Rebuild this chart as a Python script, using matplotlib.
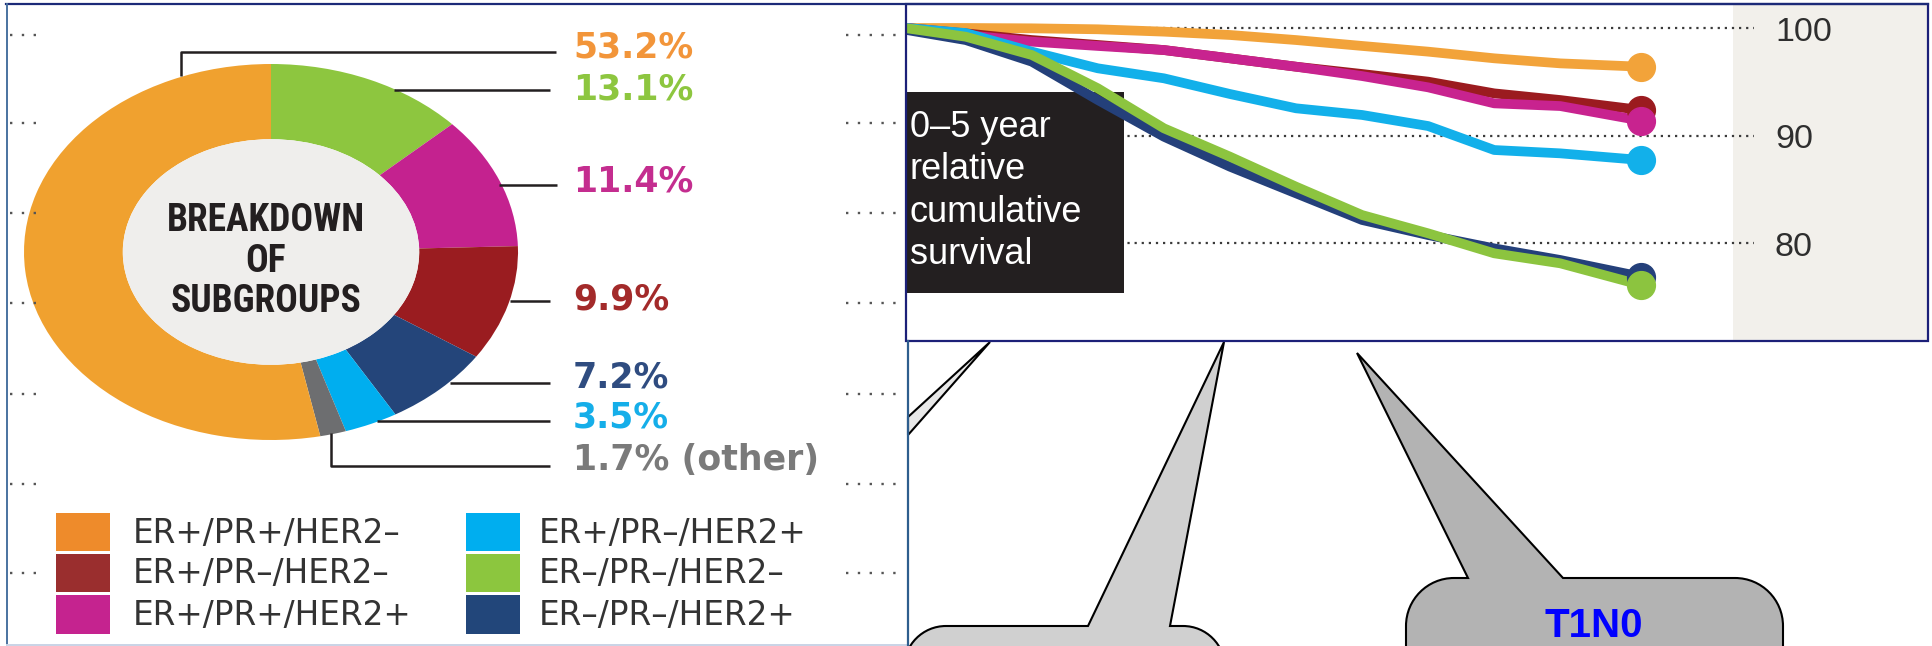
import matplotlib
matplotlib.use("Agg")
import matplotlib.pyplot as plt
from matplotlib.patches import Rectangle, Polygon, PathPatch, Circle
from matplotlib.path import Path
from matplotlib import font_manager as fm

W, H = 1933, 646

# ---------------- data ----------------
share_names = ["ER+/PR+/HER2–", "ER–/PR–/HER2–", "ER+/PR+/HER2+", "ER+/PR–/HER2–",
               "ER–/PR–/HER2+", "ER+/PR–/HER2+", "other"]
share_values = [53.2, 13.1, 11.4, 9.9, 7.2, 3.5, 1.7]
wedge_colors = ["#F0A12F", "#8DC63F", "#C4228F", "#9A1C20", "#24457A", "#00AEEF", "#6D6E70"]
pct_colors = ["#F2953A", "#8DC63F", "#C42D8F", "#A32A2A", "#2F4C80", "#15AEE9", "#7A7A7A"]

legend_labels = ["ER+/PR+/HER2–", "ER+/PR–/HER2–", "ER+/PR+/HER2+",
                 "ER+/PR–/HER2+", "ER–/PR–/HER2–", "ER–/PR–/HER2+"]
legend_colors = ["#EE8B2B", "#9A2E2E", "#C5238F", "#00AEEF", "#8CC63E", "#22467A"]

years = [0, 0.4, 0.85, 1.3, 1.75, 2.2, 2.65, 3.1, 3.55, 4.0, 4.45, 5.0]
surv_er_pr_her2neg = [100, 100, 99.97, 99.88, 99.66, 99.35, 98.88, 98.33, 97.8, 97.18, 96.71, 96.4]
surv_er_prneg_her2neg = [100, 99.5, 98.88, 98.42, 97.95, 97.18, 96.4, 95.72, 95.01, 93.92, 93.3, 92.37]
surv_er_pr_her2pos = [100, 99.35, 98.73, 98.33, 97.95, 97.18, 96.4, 95.53, 94.48, 92.99, 92.74, 91.38]
surv_er_prneg_her2pos = [100, 99.53, 97.8, 96.25, 95.32, 93.86, 92.53, 91.91, 90.88, 88.65, 88.34, 87.72]
surv_triple_her2pos = [99.81, 98.88, 96.87, 93.3, 89.89, 87.1, 84.62, 82.14, 80.74, 79.5, 78.42, 76.87]
surv_triple_neg = [99.97, 99.19, 97.49, 94.39, 90.67, 88.03, 85.24, 82.6, 80.9, 79.04, 78.11, 76.09]
survival_series = [surv_er_pr_her2neg, surv_er_prneg_her2neg, surv_er_pr_her2pos,
                   surv_er_prneg_her2pos, surv_triple_her2pos, surv_triple_neg]
line_colors = ["#F2A33A", "#9B1B1F", "#C8238F", "#12B0EA", "#24407A", "#8CC43F"]
y_ticks = [100, 90, 80, 70]

box_text = "0–5 year\nrelative\ncumulative\nsurvival"
center_text = "BREAKDOWN\nOF\nSUBGROUPS"
bubble_text = "T1N0"

# ---------------- fonts ----------------
names = {f.name for f in fm.fontManager.ttflist}
NARROW = next((n for n in ["Liberation Sans Narrow", "Roboto Condensed",
                           "Open Sans Condensed", "Noto Sans Condensed",
                           "DejaVu Sans Condensed"] if n in names), None)

fig = plt.figure(figsize=(W / 100, H / 100), dpi=100)
fig.patch.set_facecolor("white")


def px_axes(x0, y0, x1, y1, **kw):
    return fig.add_axes([x0 / W, 1 - y1 / H, (x1 - x0) / W, (y1 - y0) / H], **kw)


# ---------------- donut ----------------
pax = px_axes(24, 64, 518, 440, zorder=1)
pie_vals = share_values[1:] + share_values[:1]
pie_cols = wedge_colors[1:] + wedge_colors[:1]
pax.pie(pie_vals, colors=pie_cols, startangle=90, counterclock=False, radius=1,
        wedgeprops=dict(width=0.4, linewidth=0))
pax.add_patch(Circle((0, 0), 0.6, facecolor="#EFEEEC", edgecolor="none", zorder=5))
pax.set_aspect("auto")
pax.set_xlim(-1, 1)
pax.set_ylim(-1, 1)
pax.axis("off")

# ---------------- survival chart ----------------
CX0, CX1, CY0, CY1 = 907, 1927, 5, 340
T_PER_PX = 5 / (1641 - 907)
V_PER_PX = 10 / 107.5
cax = px_axes(CX0, CY0, CX1, CY1, zorder=2)
xmax = (CX1 - CX0) * T_PER_PX
cax.set_xlim(0, xmax)
cax.set_ylim(100 - (CY1 - 28) * V_PER_PX, 100 + (28 - CY0) * V_PER_PX)
cax.axis("off")


def tx(x):
    return (x - CX0) * T_PER_PX


def vy(y):
    return 100 - (y - 28) * V_PER_PX


cax.add_patch(Rectangle((tx(1733), vy(CY1 + 5)), xmax - tx(1733), vy(0) - vy(CY1 + 5),
                        facecolor="#F2F0EB", edgecolor="none", zorder=0))
for v in y_ticks:
    cax.plot([0, tx(1754)], [v, v], color="#3A3A3A", lw=1.6, ls=(0, (1, 2.2)), zorder=1)
    cax.text(tx(1775), v - 12.5 * V_PER_PX, str(v), ha="left", va="baseline",
             fontsize=24.5, family="Liberation Sans", color="#2E2E2E", zorder=2,
             clip_on=True)

cax.add_patch(Rectangle((0, vy(293)), tx(1124), vy(92) - vy(293),
                        facecolor="#231F20", edgecolor="none", zorder=2))
cax.text(tx(910), vy(110), box_text, ha="left", va="top", fontsize=26,
         family="Liberation Sans", color="white", linespacing=1.27, zorder=3)

for vals, c in zip(survival_series, line_colors):
    cax.plot(years, vals, color=c, lw=7, solid_capstyle="round",
             solid_joinstyle="round", zorder=4)
    cax.plot(years[-1], vals[-1], "o", ms=20, color=c, mec=c, zorder=5)

# ---------------- overlay (pixel coordinates) ----------------
ov = fig.add_axes([0, 0, 1, 1], zorder=5)
ov.set_xlim(0, W)
ov.set_ylim(H, 0)
ov.axis("off")

# dotted stubs on the left panel
for y in [35, 123, 213, 303, 394, 484, 573]:
    ov.plot([10, 37], [y, y], color="#555555", lw=1.7, ls=(0, (1, 4)))
    ov.plot([846, 905], [y, y], color="#555555", lw=1.7, ls=(0, (1, 4)))

# donut centre text
if NARROW:
    ov.text(266, 261, center_text, ha="center", va="center", fontsize=27,
            family=NARROW, weight="bold", color="#231F20", linespacing=1.12)
else:
    ov.text(266, 261, center_text, ha="center", va="center", fontsize=22,
            family="Liberation Sans", weight="bold", color="#231F20", linespacing=1.45)

# leader lines
LK = dict(color="#231F20", lw=1.8, solid_capstyle="butt")
ov.plot([181, 181, 556], [76, 52, 52], **LK)
ov.plot([394, 550], [90, 90], **LK)
ov.plot([499, 557], [185, 185], **LK)
ov.plot([510, 550], [301, 301], **LK)
ov.plot([450, 550], [383, 383], **LK)
ov.plot([377, 550], [421, 421], **LK)
ov.plot([331, 331, 550], [433, 466, 466], **LK)

label_y = [47, 89, 181, 299, 378, 418, 460]
for name, v, c, y in zip(share_names, share_values, pct_colors, label_y):
    s = f"{v}%" if name != "other" else f"{v}% (other)"
    ov.text(573, y, s, ha="left", va="center", fontsize=25, weight="bold",
            family="DejaVu Sans", color=c)

# legend
sw_x = [56, 466]
tx_x = [133, 539]
row_y = [(513, 551), (554, 592), (595, 634)]
for i, (lab, col) in enumerate(zip(legend_labels, legend_colors)):
    c_i, r_i = divmod(i, 3)
    y0, y1 = row_y[r_i]
    ov.add_patch(Rectangle((sw_x[c_i], y0), 54, y1 - y0, facecolor=col, edgecolor="none"))
    ov.text(tx_x[c_i], (y0 + y1) / 2 + 1, lab, ha="left", va="center", fontsize=23.5,
            family="DejaVu Sans", color="#333333")

# speech bubbles
K = 0.5523


def bubble(left, right, top, r, base_l, base_r, tip, fc):
    bottom = H + 80
    verts = [(left, bottom), (left, top + r),
             (left, top + r - K * r), (left + r - K * r, top), (left + r, top),
             (base_l, top), tip, (base_r, top), (right - r, top),
             (right - r + K * r, top), (right, top + r - K * r), (right, top + r),
             (right, bottom), (left, bottom)]
    codes = [Path.MOVETO, Path.LINETO, Path.CURVE4, Path.CURVE4, Path.CURVE4,
             Path.LINETO, Path.LINETO, Path.LINETO, Path.LINETO,
             Path.CURVE4, Path.CURVE4, Path.CURVE4, Path.LINETO, Path.CLOSEPOLY]
    ov.add_patch(PathPatch(Path(verts, codes), facecolor=fc, edgecolor="black", lw=1.5))


bubble(904, 1225, 626, 42, 1088, 1170, (1224, 342), "#D0D0D0")
bubble(1406, 1783, 578, 48, 1468, 1563, (1357, 353), "#B3B3B3")
ov.text(1594, 645, bubble_text, ha="center", va="bottom", fontsize=29,
        family="Liberation Sans", weight="bold", color="#0000FF")

ov.add_patch(Polygon([(990, 342), (908, 417), (908, 435)], closed=True,
                     facecolor="#E8E8E8", edgecolor="black", lw=1.5))

# frames
ov.plot([6, 1928], [4, 4], color="#1C2A78", lw=1.6)
ov.plot([7, 7], [4, 645], color="#4A72A0", lw=1.4)
ov.plot([7, 907], [645, 645], color="#C9D3E6", lw=1.4)
ov.add_patch(Rectangle((906, 4), 1928 - 906, 341 - 4, facecolor="none",
                       edgecolor="#1C2078", lw=1.6))
ov.plot([908, 908], [341, 646], color="#2E5E8E", lw=1.6)

fig.savefig("out.png", dpi=100, facecolor="white")
